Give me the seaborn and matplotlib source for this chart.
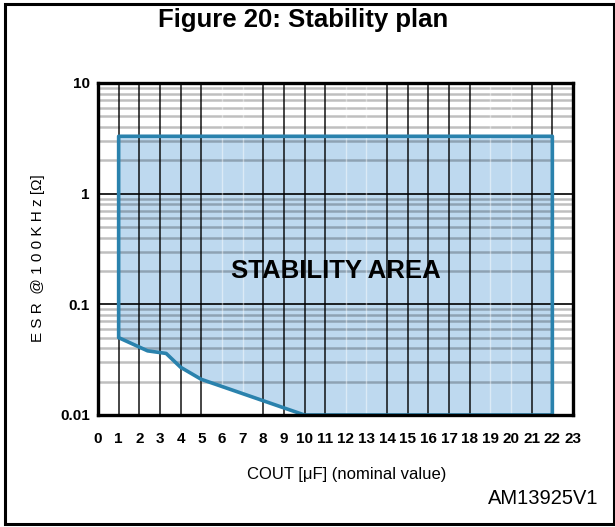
import numpy as np
import pandas as pd
import matplotlib
matplotlib.use("Agg")
import matplotlib.pyplot as plt
import matplotlib.patches as mpatches
import seaborn as sns

# Stability region boundaries (COUT in uF, ESR in ohm)
cout_lower = [1, 2.4, 3.3, 4, 5, 10, 22]
esr_lower = [0.05, 0.038, 0.036, 0.027, 0.021, 0.01, 0.01]
cout_upper = [1, 22]
esr_upper = [3.3, 3.3]

x_ticks = list(range(0, 24))
y_ticks = [0.01, 0.1, 1, 10]
y_tick_labels = ["0.01", "0.1", "1", "10"]
# Vertical grid positions drawn dark; the rest are faint
dark_verticals = [1, 2, 3, 4, 5, 8, 9, 10, 11, 14, 15, 16, 17, 18, 21, 22]
faint_verticals = [6, 7, 12, 13, 19, 20]

sns.set_theme(style="white")
plt.rcParams["font.family"] = ["Liberation Sans", "DejaVu Sans"]
plt.rcParams["text.color"] = "black"
plt.rcParams["xtick.color"] = "black"
plt.rcParams["ytick.color"] = "black"

fig = plt.figure(figsize=(6.15, 5.27), dpi=100)
ax = fig.add_axes([98 / 615, 112 / 527, 475 / 615, 332 / 527])
ax.set_yscale("log")
ax.set_xlim(0, 23)
ax.set_ylim(0.01, 10)

# Closed outline of the stability area
poly_x = [22, 22] + cout_upper[::-1] + cout_lower
poly_y = [0.01, esr_upper[1]] + esr_upper[::-1] + esr_lower

# Fill between lower curve and upper limit
xs = np.array(cout_lower, dtype=float)
ax.fill_between(xs, esr_lower, esr_upper[0], color="#bed9ef", zorder=1, linewidth=0)

# Horizontal log grid
minor_vals = [m * 10.0 ** e for e in (-2, -1, 0) for m in range(2, 10)]
for v in minor_vals:
    ax.axhline(v, color="black", alpha=0.25, linewidth=1.8, zorder=2)
for v in [0.1, 1]:
    ax.axhline(v, color="black", linewidth=1.2, zorder=2)

# Vertical grid
for v in dark_verticals:
    ax.axvline(v, color="black", alpha=0.85, linewidth=1.2, zorder=2)
for v in faint_verticals:
    ax.axvline(v, color="white", alpha=0.45, linewidth=1.0, zorder=2)

# Boundary outline
outline = pd.DataFrame({"COUT": poly_x, "ESR": poly_y})
sns.lineplot(data=outline, x="COUT", y="ESR", sort=False, estimator=None,
             color="#2a82ad", linewidth=2.6, ax=ax, zorder=4)

for s in ax.spines.values():
    s.set_color("black")
    s.set_linewidth(2.4)
    s.set_zorder(5)

ax.set_xticks(x_ticks)
ax.set_xticklabels([str(t) for t in x_ticks], fontsize=11, fontweight="bold")
ax.set_yticks(y_ticks)
ax.set_yticklabels(y_tick_labels, fontsize=11, fontweight="bold")
ax.yaxis.set_minor_locator(matplotlib.ticker.NullLocator())
ax.tick_params(axis="x", length=0, pad=12)
ax.tick_params(axis="y", length=0, pad=6)
ax.set_xlabel("")
ax.set_ylabel("")

ax.text(11.5, 0.2, "STABILITY AREA", ha="center", va="center",
        fontsize=18.5, fontweight="bold", zorder=6)

fig.text(0.493, 1 - 20 / 527, "Figure 20: Stability plan", ha="center", va="center",
         fontsize=18.5, fontweight="bold")
fig.text(38 / 615, 1 - 258 / 527, "E S R  @ 1 0 0 K H z [Ω]", ha="center", va="center",
         rotation=90, fontsize=11)
fig.text(347 / 615, 1 - 475 / 527, "COUT [μF] (nominal value)", ha="center", va="center",
         fontsize=12)
fig.text(543 / 615, 1 - 498 / 527, "AM13925V1", ha="center", va="center",
         fontsize=14.5)

fig.patches.append(mpatches.Rectangle((4.5 / 615, 3.5 / 527), 609 / 615, 520 / 527,
                                      transform=fig.transFigure, fill=False,
                                      edgecolor="black", linewidth=2.2))

fig.savefig("out.png", dpi=100)
